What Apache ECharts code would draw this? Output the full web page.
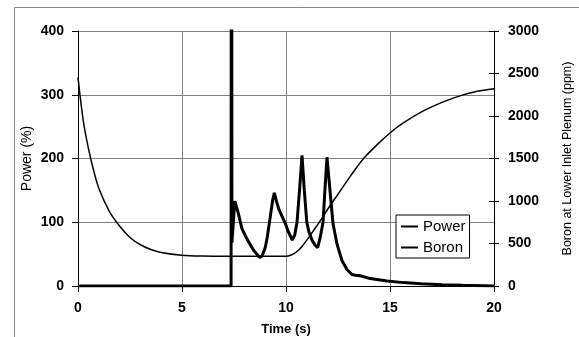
<!DOCTYPE html>
<html>
<head>
<meta charset="utf-8">
<script src="https://cdn.jsdelivr.net/npm/echarts@6/dist/echarts.min.js"></script>
<style>
  html, body { margin: 0; padding: 0; background: #fff; }
  #chart { width: 579px; height: 337px; }
</style>
</head>
<body>
<div id="chart"></div>
<script>
// power (%) vs time (s); spike near 7.4 s goes off the top of the chart
var powerTime = [0, 7.36, 7.38, 7.40, 7.47, 7.54, 7.7, 7.88, 8.12, 8.44, 8.6, 8.73, 8.85, 9.0, 9.1, 9.25, 9.36, 9.44,
    9.55, 9.65, 9.8, 9.97, 10.1, 10.3, 10.42, 10.53, 10.65, 10.77, 10.88, 11.0, 11.1, 11.25, 11.4, 11.52, 11.65,
    11.78, 11.88, 11.97, 12.1, 12.26, 12.45, 12.69, 12.93, 13.17, 13.35, 13.57, 14.05, 14.86, 15.65, 16.5, 17.5, 18.5, 20];
var powerVal = [0, 0, 1500, 68, 100, 133, 115, 90, 74, 56, 50, 45, 47, 60, 77, 110, 135, 146,
    132, 121, 110, 98, 86, 72, 80, 100, 150, 205, 150, 100, 85, 72, 64, 60, 77,
    100, 155, 202, 155, 98, 66, 40, 26, 18, 17, 16, 11.6, 7.8, 5.3, 3.5, 2, 1, 0];

// boron at lower inlet plenum (ppm) vs time (s)
var boronTime = [0, 0.25, 0.5, 0.75, 1, 1.5, 2, 2.5, 3, 3.5, 4, 5, 6, 7, 8, 9, 10, 10.25, 10.5, 10.75, 11, 11.33,
    11.67, 12.13, 12.5, 13.09, 13.73, 14.5, 15, 15.5, 16.45, 17.5, 18.4, 19.2, 20];
var boronVal = [2455, 1950, 1620, 1360, 1150, 882, 705, 570, 485, 430, 395, 362, 352, 350, 349, 349, 350, 365, 400, 460, 540, 655,
    775, 950, 1080, 1290, 1500, 1690, 1800, 1895, 2040, 2160, 2240, 2290, 2320];

function zip(xs, ys) {
    var out = [];
    for (var i = 0; i < xs.length; i++) out.push([xs[i], ys[i]]);
    return out;
}

var font = '"Liberation Sans", Arial, sans-serif';
var gridColor = '#808080';

var chart = echarts.init(document.getElementById('chart'));
var option = {
    animation: false,
    textStyle: { fontFamily: font },
    graphic: [{
        type: 'rect',
        shape: { x: 14.5, y: 7.5, width: 700, height: 500 },
        style: { fill: 'none', stroke: '#888', lineWidth: 1 },
        silent: true
    }],
    grid: { left: 78, right: 85, top: 31, bottom: 51, containLabel: false, outerBoundsMode: 'none' },
    legend: {
        left: 396, top: 215,
        orient: 'vertical',
        padding: [4, 4, 3, 4],
        itemGap: 6,
        itemWidth: 17,
        itemHeight: 14,
        borderColor: '#000',
        borderWidth: 1,
        borderRadius: 0,
        backgroundColor: '#fff',
        itemStyle: { color: 'transparent', borderWidth: 0 },
        textStyle: { fontFamily: font, fontSize: 15, color: '#000' },
        data: ['Power', 'Boron']
    },
    xAxis: {
        type: 'value',
        min: 0, max: 20, interval: 5,
        name: 'Time (s)',
        nameLocation: 'middle',
        nameGap: 37,
        nameTextStyle: { fontFamily: font, fontSize: 13, fontWeight: 'bold', color: '#000' },
        axisLine: { lineStyle: { color: '#000', width: 1 } },
        axisTick: { length: 6, lineStyle: { color: '#000' } },
        axisLabel: { margin: 15, fontFamily: font, fontSize: 14, fontWeight: 'bold', color: '#000' },
        splitLine: { show: true, lineStyle: { color: gridColor, width: 1 } }
    },
    yAxis: [{
        type: 'value',
        min: 0, max: 400, interval: 100,
        name: 'Power (%)',
        nameLocation: 'middle',
        nameGap: 44,
        nameMoveOverlap: false,
        nameTextStyle: { fontFamily: font, fontSize: 14, color: '#000' },
        axisLine: { show: true, lineStyle: { color: '#000', width: 1 } },
        axisTick: { show: true, length: 6, lineStyle: { color: '#000' } },
        axisLabel: { margin: 14, fontFamily: font, fontSize: 14, fontWeight: 'bold', color: '#000' },
        splitLine: { show: true, lineStyle: { color: gridColor, width: 1 } }
    }, {
        type: 'value',
        position: 'right',
        min: 0, max: 3000, interval: 500,
        name: 'Boron at Lower Inlet Plenum (ppm)',
        nameLocation: 'middle',
        nameGap: 67,
        nameTextStyle: { fontFamily: font, fontSize: 12.5, color: '#000' },
        axisLine: { show: true, lineStyle: { color: '#000', width: 1 } },
        axisTick: { show: true, length: 5, lineStyle: { color: '#000' } },
        axisLabel: {
            margin: 14, fontFamily: font, fontSize: 14, fontWeight: 'bold', color: '#000',
            formatter: function (v) { return String(v); }
        },
        splitLine: { show: false }
    }, {
        // inner half of the crossing ticks on the right axis
        type: 'value',
        position: 'right',
        min: 0, max: 3000, interval: 500,
        axisLine: { show: false },
        axisTick: { show: true, inside: true, length: 5, lineStyle: { color: '#000' } },
        axisLabel: { show: false },
        splitLine: { show: false }
    }],
    series: [{
        name: 'Power',
        type: 'line',
        yAxisIndex: 0,
        data: zip(powerTime, powerVal),
        symbol: 'none',
        clip: true,
        lineStyle: { color: '#000', width: 3 },
        itemStyle: { color: '#000' },
        z: 3
    }, {
        name: 'Boron',
        type: 'line',
        yAxisIndex: 1,
        data: zip(boronTime, boronVal),
        symbol: 'none',
        smooth: 0.3,
        lineStyle: { color: '#000', width: 1.5 },
        itemStyle: { color: '#000' },
        z: 2
    }]
};
chart.setOption(option);
</script>
</body>
</html>
